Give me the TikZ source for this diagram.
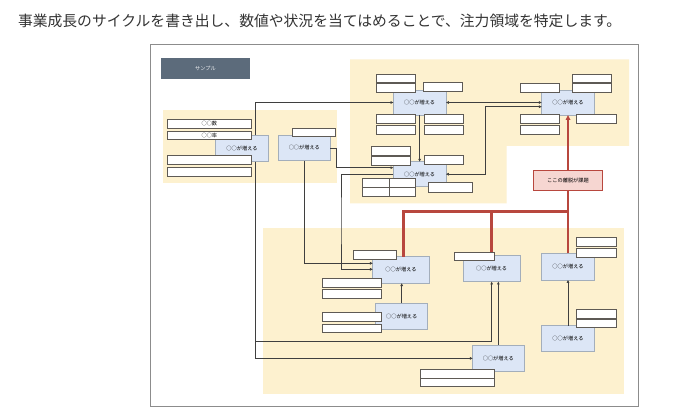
\documentclass[tikz,border=0pt]{standalone}
\usepackage{fontspec}
\newfontfamily\jp{Noto Sans CJK JP}
\usetikzlibrary{arrows.meta}
\definecolor{ylw}{HTML}{FDF1CF}
\definecolor{bluef}{HTML}{DCE6F6}
\definecolor{blued}{HTML}{A3AEBB}
\definecolor{fieldd}{HTML}{5E5A55}
\definecolor{linec}{HTML}{3F3F3F}
\definecolor{redd}{HTML}{B8473E}
\definecolor{redf}{HTML}{F6D6D1}
\definecolor{slate}{HTML}{5C6B7B}
\definecolor{framec}{HTML}{8C8C8C}
\definecolor{titlec}{HTML}{333333}
\begin{document}
\begin{tikzpicture}[x=1pt,y=-1pt,
  every node/.style={inner sep=0pt,outer sep=0pt,font=\jp\fontsize{5.2}{6}\selectfont},
  bluebox/.style={draw=blued,fill=bluef,line width=0.5pt,anchor=north west},
  field/.style={draw=fieldd,fill=white,line width=0.6pt,anchor=north west},
  cl/.style={draw=linec,line width=0.55pt},
  redline/.style={draw=redd,line width=1.8pt},
  redbranch/.style={draw=redd,line width=2.3pt},
  arr/.style={-{Triangle[length=2.8pt,width=2.6pt]}},
  arrtwo/.style={{Triangle[length=2.8pt,width=2.6pt]}-{Triangle[length=2.8pt,width=2.6pt]}}
]
\useasboundingbox (0,0) rectangle (680,419);
\fill[white] (0,0) rectangle (680,419);
% title
\node[anchor=west,text=titlec,font=\jp\fontsize{14.8}{16}\selectfont] (title) at (18,20.5)
  {事業成長のサイクルを書き出し、数値や状況を当てはめることで、注力領域を特定します。};
% frame
\draw[framec,line width=0.9pt] (150.7,44) rectangle (638.7,406.7);
% yellow areas
\fill[ylw] (162.7,110) rectangle (336.7,183.3);
\fill[ylw] (350,59.3) -- (629,59.3) -- (629,146) -- (506.7,146) -- (506.7,203.3) -- (350,203.3) -- cycle;
\fill[ylw] (263.3,227.7) rectangle (624.3,394);
% sample label
\node[fill=slate,text=white!90!slate,minimum width=89,minimum height=21,anchor=north west] (S) at (161,58) {サンプル};
% blue boxes
\node[bluebox,minimum width=52.6,minimum height=26.4] (A) at (215.7,135.3) {○○が増える};
\node[bluebox,minimum width=52,minimum height=25.7] (B) at (278.3,135) {○○が増える};
\node[bluebox,minimum width=52.7,minimum height=25] (C) at (393.3,90) {○○が増える};
\node[bluebox,minimum width=52.7,minimum height=25] (D) at (393.3,161.7) {○○が増える};
\node[bluebox,minimum width=52.6,minimum height=25] (E) at (541.7,90) {○○が増える};
\node[bluebox,minimum width=56.6,minimum height=26.6] (F) at (372.7,256.7) {○○が増える};
\node[bluebox,minimum width=56.7,minimum height=26.7] (G) at (463.3,255) {○○が増える};
\node[bluebox,minimum width=52.6,minimum height=26.7] (H) at (541.7,253.3) {○○が増える};
\node[bluebox,minimum width=52,minimum height=26] (I) at (375.7,303.3) {○○が増える};
\node[bluebox,minimum width=52.6,minimum height=26] (J) at (541.7,325.7) {○○が増える};
\node[bluebox,minimum width=51.3,minimum height=26.7] (K) at (472.7,345) {○○が増える};
% red box
\node[draw=redd,fill=redf,line width=0.9pt,minimum width=69.4,minimum height=20,anchor=north west] (R) at (533.3,170.7) {ここの離脱が課題};
% helper coordinates
\coordinate (a2) at (255.3,341);
\coordinate (b1) at (336.7,160);
\coordinate (d1) at (341,220);
\coordinate (e1) at (485.7,140);
\coordinate (rj) at (568,211.5);
\coordinate (rf) at (403.5,211.5);
\coordinate (rg) at (491.5,211.5);
% connectors
\draw[cl,arr] ([xshift=13.3pt]A.north) |- (C.west);
\draw[cl,arr] ([xshift=13.3pt]A.south) -- (a2) -| (G.south);
\draw[cl,arr] ([xshift=13.3pt]A.south) |- (K.west);
\draw[cl,arr] (K.north) -- (K.north |- G.south);
\draw[cl,arr] (B.east) -| (b1) |- ([yshift=6.5pt]D.west);
\draw[cl,arr] (B.south) |- ([yshift=6.7pt]F.west);
\draw[cl,arr] (D.west) -| (d1) |- ([yshift=0.7pt]F.west);
\draw[cl,arr] (C.south) -- (D.north);
\draw[cl,arrtwo] (C.east) -- (E.west);
\draw[cl,arrtwo] (D.east) -| (e1) |- ([yshift=-4.2pt]E.west);
\draw[cl,arr] (I.north) -- (I.north |- F.south);
\draw[cl,arr] (J.north) -- (H.south);
% red connectors
\draw[redline,-{Triangle[length=5pt,width=4.6pt]}] (R.north) -- (E.south);
\draw[redline] (H.north) -- (R.south);
\draw[redbranch] (F.north -| rf) -- (rf) -- (rj);
\draw[redbranch] (G.north -| rg) -- (rg);
% fields
\node[field,minimum width=83.3,minimum height=9] (fa1) at (167.7,119.3) {○○数};
\node[field,minimum width=83.3,minimum height=8.7] (fa2) at (167.7,131) {○○率};
\node[field,minimum width=83.3,minimum height=8.6] (fa3) at (167.7,155.7) {};
\node[field,minimum width=83.3,minimum height=8.7] (fa4) at (167.7,167.3) {};
\node[field,minimum width=42.7,minimum height=8.7] (fb1) at (292.3,128) {};
\node[field,minimum width=39.7,minimum height=8.7] (fc1) at (376,74) {};
\node[field,minimum width=39.7,minimum height=9] (fc2) at (376,83.3) {};
\node[field,minimum width=39,minimum height=9] (fc3) at (423.3,82.7) {};
\node[field,minimum width=39.7,minimum height=8.6] (fc4) at (376,114.7) {};
\node[field,minimum width=39.7,minimum height=8.7] (fc5) at (376,125.3) {};
\node[field,minimum width=39.3,minimum height=8.6] (fc6) at (424,114.7) {};
\node[field,minimum width=39.3,minimum height=8.7] (fc7) at (424,125.3) {};
\node[field,minimum width=39,minimum height=9] (fd1) at (371.7,146) {};
\node[field,minimum width=39,minimum height=9] (fd2) at (371.7,156) {};
\node[field,minimum width=39.3,minimum height=8.6] (fd3) at (424,155.7) {};
\node[field,minimum width=26.3,minimum height=8.6] (fd4) at (362.7,178.7) {};
\node[field,minimum width=26.7,minimum height=8.6] (fd5) at (389,178.7) {};
\node[field,minimum width=26.3,minimum height=8.7] (fd6) at (362.7,187.3) {};
\node[field,minimum width=26.7,minimum height=8.7] (fd7) at (389,187.3) {};
\node[field,minimum width=43.7,minimum height=9.3] (fd8) at (428.3,182.7) {};
\node[field,minimum width=39.4,minimum height=8.7] (fe1) at (572.3,74) {};
\node[field,minimum width=39.4,minimum height=9] (fe2) at (572.3,83.3) {};
\node[field,minimum width=39.3,minimum height=9] (fe3) at (520,83.3) {};
\node[field,minimum width=39.3,minimum height=8.6] (fe4) at (520,114.7) {};
\node[field,minimum width=39.3,minimum height=8.7] (fe5) at (520,125.3) {};
\node[field,minimum width=39.3,minimum height=8.6] (fe6) at (576.7,114.7) {};
\node[field,minimum width=43,minimum height=8.6] (ff1) at (353.7,250.7) {};
\node[field,minimum width=59,minimum height=8.7] (ff2) at (322.7,278.3) {};
\node[field,minimum width=59,minimum height=8.7] (ff3) at (322.7,289.3) {};
\node[field,minimum width=59,minimum height=9] (fi1) at (322.7,312.7) {};
\node[field,minimum width=59,minimum height=8.7] (fi2) at (322.7,324) {};
\node[field,minimum width=40,minimum height=8.7] (fg1) at (454.3,252) {};
\node[field,minimum width=39.3,minimum height=8.6] (fh1) at (576.7,237.7) {};
\node[field,minimum width=39.3,minimum height=8.6] (fh2) at (576.7,248.7) {};
\node[field,minimum width=39.3,minimum height=8.7] (fj1) at (576.7,309.3) {};
\node[field,minimum width=39.3,minimum height=8.4] (fj2) at (576.7,319.3) {};
\node[field,minimum width=74.3,minimum height=8.7] (fk1) at (420,369.3) {};
\node[field,minimum width=74.3,minimum height=8.7] (fk2) at (420,378) {};
\end{tikzpicture}
\end{document}
